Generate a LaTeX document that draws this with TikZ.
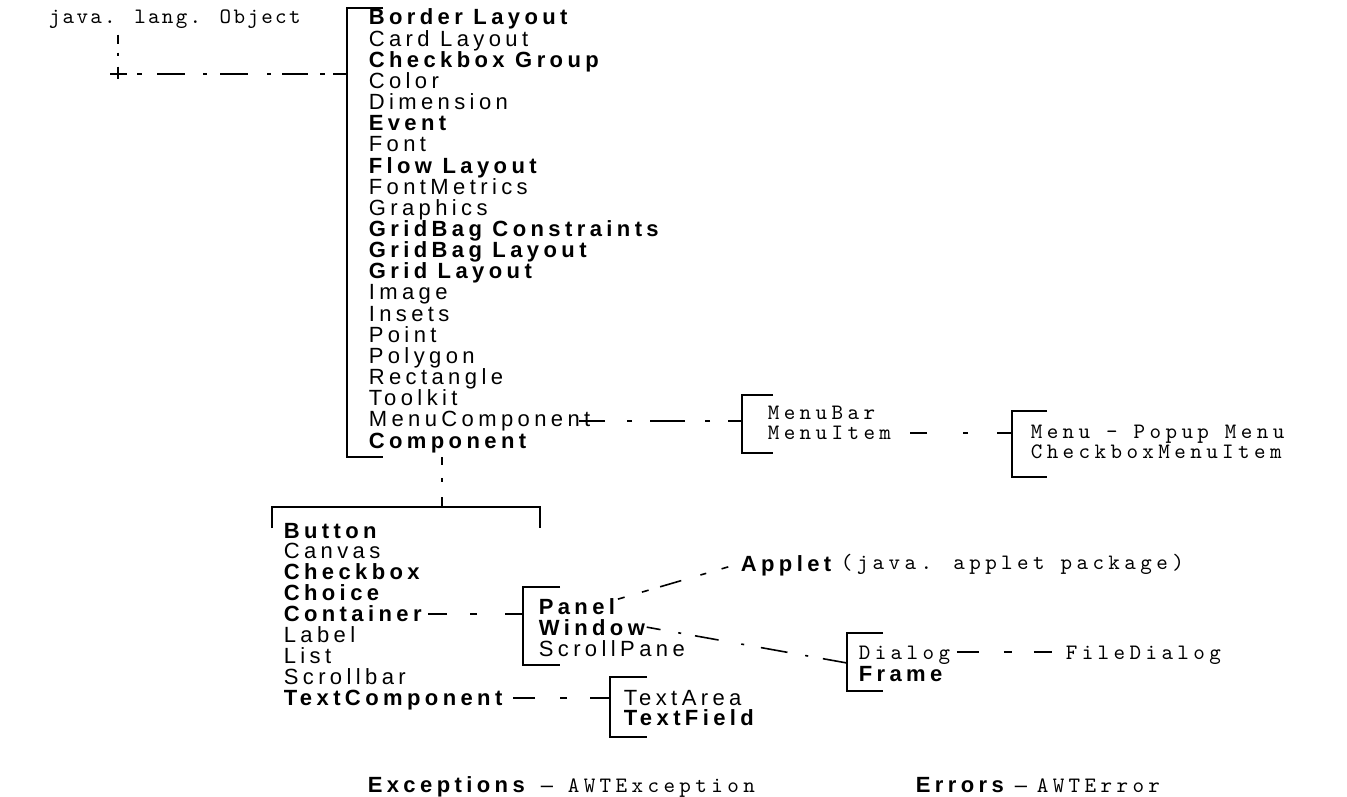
\documentclass[tikz,border=0pt]{standalone}
\usepackage{fontspec}
\usetikzlibrary{calc}
\newfontfamily\rg{Liberation Sans}[LetterSpace=20]
\newfontfamily\bd{Liberation Sans}[LetterSpace=20]
\newfontfamily\mn{lmmono10-regular.otf}[LetterSpace=20]
\newfontfamily\mj{lmmono10-regular.otf}[LetterSpace=10.5]
\begin{document}
\begin{tikzpicture}[x=1pt,y=-1pt,line width=1.6pt,
  reg/.style={anchor=base west,inner sep=0pt,font=\rg\fontsize{22}{24}\selectfont},
  bld/.style={anchor=base west,inner sep=0pt,font=\bd\bfseries\fontsize{22}{24}\selectfont},
  mono/.style={anchor=base west,inner sep=0pt,font=\mn\fontsize{22}{24}\selectfont},
  monoj/.style={anchor=base west,inner sep=0pt,font=\mj\fontsize{22}{24}\selectfont},
  brk/.style={line width=1.7pt},
  conn/.style={line width=1.6pt}]
\useasboundingbox[fill=white] (0,0) rectangle (1347,797);

% root
\node[monoj] (obj) at (48,23.7) {java. lang. Object};
\coordinate (jp) at (118,74);
\coordinate (jb) at (347,74);

% main bracket
\draw[brk] (383,8) -- (347,8) -- (347,457) -- (383,457);
\foreach \t/\s [count=\i from 0] in {
  Border Layout/bld, Card Layout/reg, Checkbox Group/bld, Color/reg,
  Dimension/reg, Event/bld, Font/reg, Flow Layout/bld, FontMetrics/reg,
  Graphics/reg, GridBag Constraints/bld, GridBag Layout/bld, Grid Layout/bld,
  Image/reg, Insets/reg, Point/reg, Polygon/reg, Rectangle/reg, Toolkit/reg,
  MenuComponent/reg, Component/bld}
  \node[\s] (m\i) at (368,{25+21.15*\i}) {\t};

\draw[conn,dash pattern=on 9pt off 9pt on 3pt off 11pt on 12pt]
  ($(obj.south -| jp)+(0,5)$) -- ($(jp)+(0,5)$);
\draw[conn,dash pattern=on 17pt off 10pt on 5pt off 15pt on 28pt off 18pt on 4pt off 13pt on 28pt off 19pt on 4pt off 11pt on 26pt off 12pt on 5pt off 8pt on 15pt]
  ($(jp)+(-8,0)$) -- (jb);

% menu branch
\coordinate (mb) at (742,421);
\draw[brk] (773,395) -- (742,395) -- (742,453) -- (773,453);
\node[mono] (mbar) at (767,419.7) {MenuBar};
\node[mono] (mi) at (767,439.7) {MenuItem};
\draw[conn,dash pattern=on 14pt off 18pt on 5pt off 20pt on 35pt off 18pt on 5pt off 22pt on 30pt off 100pt]
  (mb) -- ($(m19.east |- mb)+(-12,0)$);

\coordinate (mr) at (1012,433);
\draw[brk] (1047,411) -- (1012,411) -- (1012,477) -- (1047,477);
\node[mono] (menu) at (1030,438.7) {Menu - Popup Menu};
\node[mono] (cbmi) at (1030,458.7) {CheckboxMenuItem};
\draw[conn,dash pattern=on 15pt off 29pt on 5pt off 36pt on 17pt off 100pt]
  (mr) -- (mi.east |- mr);

% component branch
\coordinate (cb) at (442,507);
\draw[brk] (272,528) -- (272,507) -- (540,507) -- (540,528);
\draw[conn,dash pattern=on 8pt off 13pt on 4pt off 15pt on 20pt]
  ($(cb |- m20.south)+(0,4)$) -- (cb);
\foreach \t/\s [count=\i from 0] in {
  Button/bld, Canvas/reg, Checkbox/bld, Choice/bld, Container/bld,
  Label/reg, List/reg, Scrollbar/reg, TextComponent/bld}
  \node[\s] (c\i) at (283,{538+20.9*\i}) {\t};

% container branch
\coordinate (pb) at (523,614);
\draw[brk] (560,587) -- (523,587) -- (523,665) -- (560,665);
\node[bld] (pa) at (538,614) {Panel};
\node[bld] (wi) at (538,635) {Window};
\node[reg] (sp) at (538,656) {ScrollPane};
\draw[conn,dash pattern=on 18pt off 28pt on 7pt off 23pt on 19pt off 100pt]
  (pb) -- (c4.east |- pb);

% text component branch
\coordinate (tb) at (610,698);
\draw[brk] (647,677) -- (610,677) -- (610,737) -- (647,737);
\node[reg] (ta) at (623,705) {TextArea};
\node[bld] (tf) at (623,725) {TextField};
\draw[conn,dash pattern=on 20pt off 23pt on 7pt off 25pt on 22pt off 100pt]
  (tb) -- (c8.east |- tb);

% applet
\node[bld] (ap) at (740,571) {Applet};
\node[mono] (app) at (840,569.7) {(java. applet package)};
\draw[conn,dash pattern=on 7pt off 18pt on 7pt off 12pt on 22pt off 20pt on 6pt off 16pt on 7pt off 20pt]
  ($(pa.east)+(2,-7)$) -- ($(ap.west)+(-3,-1)$);

% window -> dialog/frame
\coordinate (db) at (847,663);
\draw[brk] (883,633) -- (847,633) -- (847,691) -- (883,691);
\node[mono] (dg) at (858,659.7) {Dialog};
\node[bld] (fr) at (858,681) {Frame};
\draw[conn,dash pattern=on 14pt off 18pt on 3pt off 14pt on 24pt off 23pt on 3pt off 17pt on 27pt off 18pt on 3pt off 15pt on 30pt]
  ($(wi.east)+(1,0)$) -- (db);

\node[mono] (fd) at (1065,659.7) {FileDialog};
\draw[conn,dash pattern=on 22pt off 25pt on 8pt off 22pt on 18pt off 100pt]
  ($(dg.east |- 0,652)+(6,0)$) -- ($(fd.west |- 0,652)+(-6,0)$);

% exceptions / errors
\node[bld] (ex) at (367,792) {Exceptions};
\node[anchor=base west,inner sep=0pt,font=\fontspec{Liberation Sans}\fontsize{22}{24}\selectfont] (exd) at (540,792) {–};
\node[mono] (awte) at (567,792) {AWTException};
\node[bld] (er) at (915,792) {Errors};
\node[anchor=base west,inner sep=0pt,font=\fontspec{Liberation Sans}\fontsize{22}{24}\selectfont] (erd) at (1014,792) {–};
\node[mono] (awter) at (1036,792) {AWTError};
\end{tikzpicture}
\end{document}
